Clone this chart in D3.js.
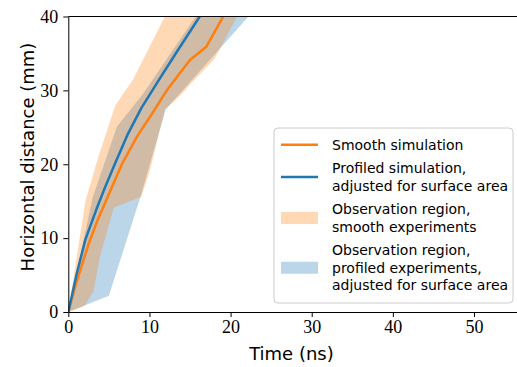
<!DOCTYPE html>
<html>
<head>
<meta charset="utf-8">
<script src="https://cdn.jsdelivr.net/npm/d3@7"></script>
<style>
  body { margin: 0; background: #fff; }
  .tick text { font-family: "Liberation Serif", serif; font-size: 18px; fill: #000; }
  .axis-label, .legend text { font-family: "DejaVu Sans", sans-serif; fill: #000; }
</style>
</head>
<body>
<div id="chart"></div>
<script>

// simulated front position, time (ns) vs horizontal distance (mm)
var smoothSimTime = [0, 1, 2.5, 3.6, 4.7, 6.6, 8.5, 10.3, 12.2, 14, 15, 16, 17, 19.1, 20.5];
var smoothSimDist = [0, 4, 9.2, 12.4, 15.2, 20, 23.8, 26.8, 30.1, 32.7, 34.1, 35, 35.9, 40, 42.8];

var profiledSimTime = [0, 1, 2.1, 3.5, 4.5, 5.8, 7.3, 9, 11.5, 13.6, 16.2, 18];
var profiledSimDist = [0, 5, 9.8, 14, 16.8, 20.2, 24, 27.6, 32, 35.6, 40, 42.6];

// observation regions: [time, distance] along upper edge and lower edge
var smoothObsUpper = [[0, 0], [2.1, 15], [3.7, 21], [5.8, 28], [8, 31.5], [11.9, 40], [13, 42.5]];
var smoothObsLower = [[0, 0], [2, 0.8], [3.1, 2.8], [3.9, 7.5], [5.6, 14.1], [9, 15.6], [10.1, 19.3],
                      [11.9, 27.4], [14, 29.5], [15, 30.8], [18, 34.2], [20.8, 40], [22, 42.5]];

var profiledObsUpper = [[0, 0], [3, 15.5], [6, 25.1], [9.2, 29.5], [15.7, 40], [17, 42]];
var profiledObsLower = [[0, 0], [5, 2.2], [8.9, 15.6], [12, 27.4], [22.2, 40], [24, 42.3]];

var xTicks = [0, 10, 20, 30, 40, 50];
var yTicks = [0, 10, 20, 30, 40];

var legendItems = [
    {type: "line", color: "#ff7f0e", lines: ["Smooth simulation"]},
    {type: "line", color: "#1f77b4", lines: ["Profiled simulation,", "adjusted for surface area"]},
    {type: "patch", color: "#ff7f0e", lines: ["Observation region,", "smooth experiments"]},
    {type: "patch", color: "#1f77b4", lines: ["Observation region,", "profiled experiments,", "adjusted for surface area"]}
];

var vis = {};
vis.margin = {top: 16.5, right: 0, bottom: 55, left: 68.3};
vis.width = 517 - vis.margin.left - vis.margin.right;
vis.height = 367 - vis.margin.top - vis.margin.bottom;

vis.svg = d3.select("#chart").append("svg")
    .attr("width", 517)
    .attr("height", 367)
    .append("g")
    .attr("transform", "translate(" + vis.margin.left + "," + vis.margin.top + ")");

vis.x = d3.scaleLinear().domain([0, 55.3]).range([0, vis.width]);
vis.y = d3.scaleLinear().domain([0, 40]).range([vis.height, 0]);

vis.svg.append("clipPath").attr("id", "plot-clip")
    .append("rect")
    .attr("width", vis.width)
    .attr("height", vis.height);

var plot = vis.svg.append("g").attr("clip-path", "url(#plot-clip)");

var pathLine = d3.line()
    .x(function(d) { return vis.x(d[0]); })
    .y(function(d) { return vis.y(d[1]); });

function band(upper, lower) {
    return pathLine(upper.concat(lower.slice().reverse())) + "Z";
}

// profiled band first, smooth band on top of it
plot.append("path")
    .attr("d", band(profiledObsUpper, profiledObsLower))
    .style("fill", "#1f77b4")
    .style("fill-opacity", 0.3);

plot.append("path")
    .attr("d", band(smoothObsUpper, smoothObsLower))
    .style("fill", "#ff7f0e")
    .style("fill-opacity", 0.3);

plot.append("path")
    .attr("d", pathLine(d3.zip(smoothSimTime, smoothSimDist)))
    .style("fill", "none")
    .style("stroke", "#ff7f0e")
    .style("stroke-width", 2.5)
    .style("stroke-linejoin", "round");

plot.append("path")
    .attr("d", pathLine(d3.zip(profiledSimTime, profiledSimDist)))
    .style("fill", "none")
    .style("stroke", "#1f77b4")
    .style("stroke-width", 2.5)
    .style("stroke-linejoin", "round");

// axes
vis.xAxis = d3.axisBottom(vis.x).tickValues(xTicks).tickSize(5).tickPadding(3).tickSizeOuter(0);
vis.yAxis = d3.axisLeft(vis.y).tickValues(yTicks).tickSize(5).tickPadding(5).tickSizeOuter(0);

vis.svg.append("g")
    .attr("class", "x-axis axis")
    .attr("transform", "translate(0," + vis.height + ")")
    .call(vis.xAxis);

vis.svg.append("g")
    .attr("class", "y-axis axis")
    .call(vis.yAxis);

vis.svg.append("line")
    .attr("x1", 0).attr("x2", vis.width)
    .attr("y1", 0).attr("y2", 0)
    .style("stroke", "#000");

vis.svg.selectAll(".axis path, .axis line").style("stroke", "#000").style("stroke-width", 1);

vis.svg.append("text")
    .attr("class", "axis-label")
    .attr("x", vis.x(27.5))
    .attr("y", vis.height + 48)
    .attr("text-anchor", "middle")
    .style("font-size", "18px")
    .text("Time (ns)");

vis.svg.append("text")
    .attr("class", "axis-label")
    .attr("transform", "translate(-34.5," + (157 - vis.margin.top) + ") rotate(-90)")
    .attr("text-anchor", "middle")
    .style("font-size", "18px")
    .text("Horizontal distance (mm)");

// legend
var legend = vis.svg.append("g")
    .attr("class", "legend")
    .attr("transform", "translate(" + (274 - vis.margin.left) + "," + (128 - vis.margin.top) + ")");

legend.append("rect")
    .attr("width", 239)
    .attr("height", 175)
    .attr("rx", 4)
    .style("fill", "#fff")
    .style("fill-opacity", 0.8)
    .style("stroke", "#cccccc");

var lineH = 17.5;
var rowY = 8;
legendItems.forEach(function(item) {
    var n = item.lines.length;
    var mid = rowY + n * lineH / 2;
    if (item.type === "line") {
        legend.append("line")
            .attr("x1", 7).attr("x2", 44)
            .attr("y1", mid).attr("y2", mid)
            .style("stroke", item.color)
            .style("stroke-width", 2.5);
    } else {
        legend.append("rect")
            .attr("x", 7).attr("y", mid - 6)
            .attr("width", 37).attr("height", 12)
            .style("fill", item.color)
            .style("fill-opacity", 0.3);
    }
    item.lines.forEach(function(t, i) {
        legend.append("text")
            .attr("x", 58)
            .attr("y", rowY + i * lineH + 13.5)
            .style("font-size", "14px")
            .text(t);
    });
    rowY += n * lineH + 6;
});

</script>
</body>
</html>
